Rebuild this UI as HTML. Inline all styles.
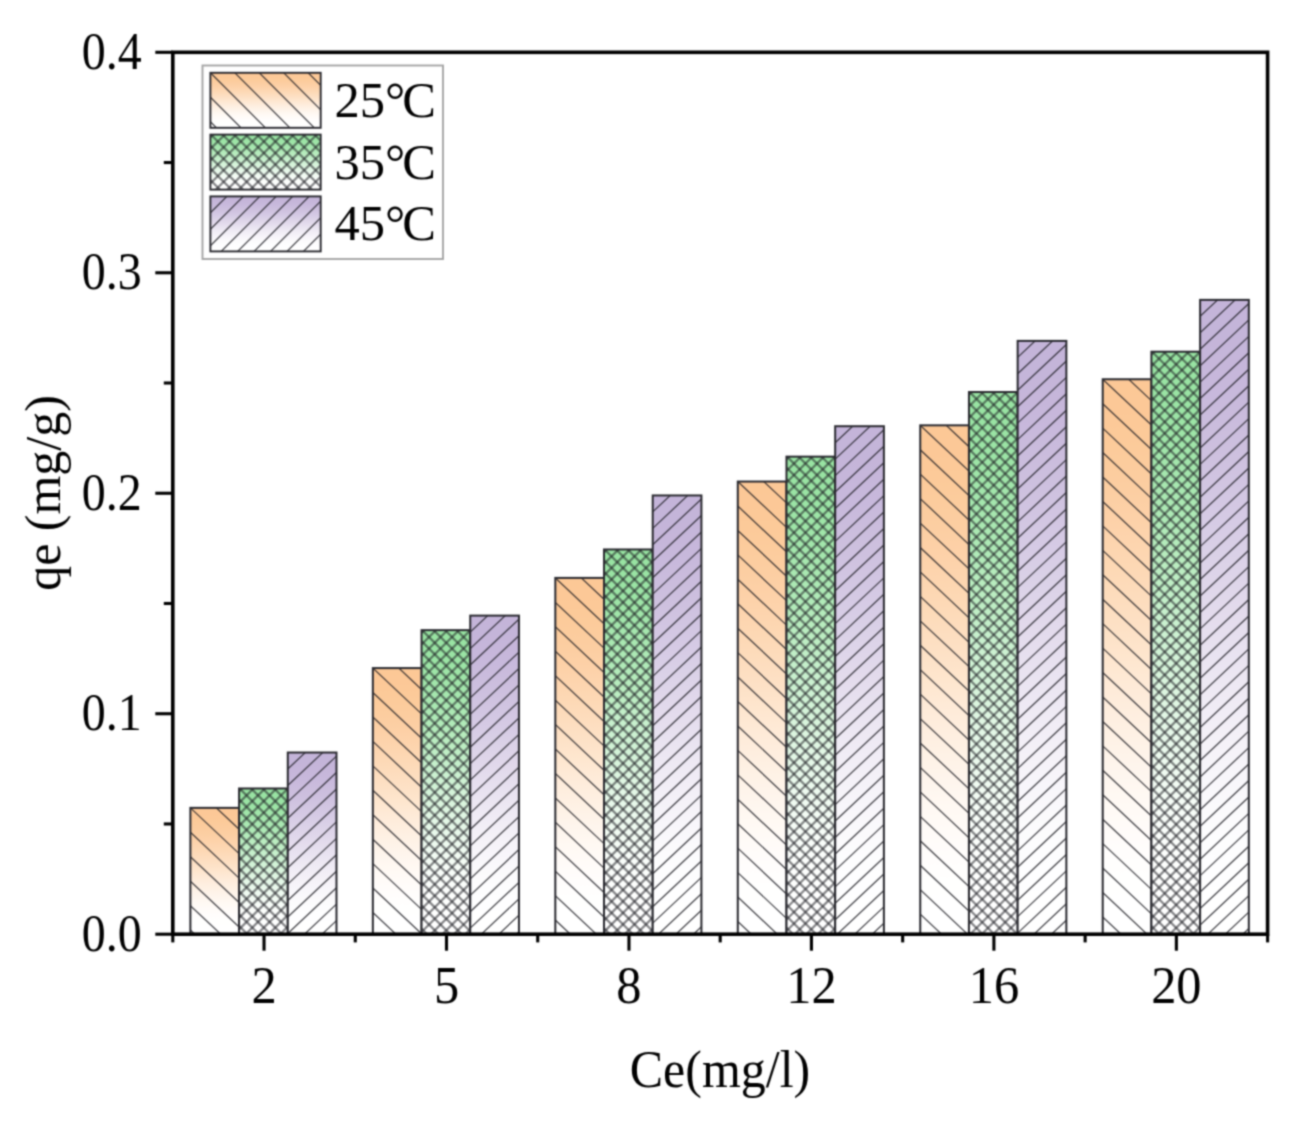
<!DOCTYPE html>
<html><head><meta charset="utf-8"><title>qe vs Ce</title>
<style>html,body{margin:0;padding:0;background:#fff}svg{display:block}</style></head>
<body>
<svg width="1299" height="1124" viewBox="0 0 1299 1124">
<defs>
<filter id="soft" x="0" y="0" width="1299" height="1124" filterUnits="userSpaceOnUse" color-interpolation-filters="sRGB"><feConvolveMatrix order="5" kernelMatrix="0.00023 0.00332 0.00809 0.00332 0.00023 0.00332 0.04785 0.11640 0.04785 0.00332 0.00809 0.11640 0.28313 0.11640 0.00809 0.00332 0.04785 0.11640 0.04785 0.00332 0.00023 0.00332 0.00809 0.00332 0.00023" divisor="1" edgeMode="duplicate" preserveAlpha="true"/></filter>
<linearGradient id="g0" x1="0" y1="0" x2="0" y2="1"><stop offset="0.00" stop-color="#fcc896"/><stop offset="0.05" stop-color="#fcc897"/><stop offset="0.10" stop-color="#fcca99"/><stop offset="0.15" stop-color="#fccc9d"/><stop offset="0.20" stop-color="#fccea2"/><stop offset="0.25" stop-color="#fdd1a8"/><stop offset="0.30" stop-color="#fdd5af"/><stop offset="0.35" stop-color="#fdd9b6"/><stop offset="0.40" stop-color="#fdddbe"/><stop offset="0.45" stop-color="#fde1c6"/><stop offset="0.50" stop-color="#fee6ce"/><stop offset="0.55" stop-color="#feead7"/><stop offset="0.60" stop-color="#feeedf"/><stop offset="0.65" stop-color="#fef2e6"/><stop offset="0.70" stop-color="#fef5ed"/><stop offset="0.75" stop-color="#fff9f3"/><stop offset="0.80" stop-color="#fffbf8"/><stop offset="0.85" stop-color="#fffdfc"/><stop offset="0.90" stop-color="#fffffe"/><stop offset="0.95" stop-color="#ffffff"/><stop offset="1.00" stop-color="#ffffff"/></linearGradient>
<linearGradient id="g1" x1="0" y1="0" x2="0" y2="1"><stop offset="0.00" stop-color="#98e3a2"/><stop offset="0.05" stop-color="#99e3a3"/><stop offset="0.10" stop-color="#9be4a5"/><stop offset="0.15" stop-color="#9fe5a8"/><stop offset="0.20" stop-color="#a4e6ad"/><stop offset="0.25" stop-color="#aae8b2"/><stop offset="0.30" stop-color="#b0eab8"/><stop offset="0.35" stop-color="#b8ecbe"/><stop offset="0.40" stop-color="#bfeec5"/><stop offset="0.45" stop-color="#c7f0cd"/><stop offset="0.50" stop-color="#cff2d4"/><stop offset="0.55" stop-color="#d7f4db"/><stop offset="0.60" stop-color="#dff6e2"/><stop offset="0.65" stop-color="#e6f8e9"/><stop offset="0.70" stop-color="#edfaef"/><stop offset="0.75" stop-color="#f3fcf4"/><stop offset="0.80" stop-color="#f8fdf9"/><stop offset="0.85" stop-color="#fcfefc"/><stop offset="0.90" stop-color="#fefffe"/><stop offset="0.95" stop-color="#ffffff"/><stop offset="1.00" stop-color="#ffffff"/></linearGradient>
<linearGradient id="g2" x1="0" y1="0" x2="0" y2="1"><stop offset="0.00" stop-color="#c4b4d9"/><stop offset="0.05" stop-color="#c4b5d9"/><stop offset="0.10" stop-color="#c6b6da"/><stop offset="0.15" stop-color="#c8b9dc"/><stop offset="0.20" stop-color="#cbbddd"/><stop offset="0.25" stop-color="#cec1df"/><stop offset="0.30" stop-color="#d2c6e2"/><stop offset="0.35" stop-color="#d6cbe5"/><stop offset="0.40" stop-color="#dad1e7"/><stop offset="0.45" stop-color="#dfd6ea"/><stop offset="0.50" stop-color="#e4dced"/><stop offset="0.55" stop-color="#e8e2f0"/><stop offset="0.60" stop-color="#ede8f3"/><stop offset="0.65" stop-color="#f1edf6"/><stop offset="0.70" stop-color="#f5f2f8"/><stop offset="0.75" stop-color="#f8f6fb"/><stop offset="0.80" stop-color="#fbfafc"/><stop offset="0.85" stop-color="#fdfdfe"/><stop offset="0.90" stop-color="#fefeff"/><stop offset="0.95" stop-color="#ffffff"/><stop offset="1.00" stop-color="#ffffff"/></linearGradient>
</defs>
<g filter="url(#soft)">
<rect width="1299" height="1124" fill="#fff"/>
<clipPath id="c1"><rect x="190.38" y="807.87" width="48.70" height="126.33"/></clipPath>
<rect x="190.38" y="807.87" width="48.70" height="126.33" fill="url(#g0)"/>
<g clip-path="url(#c1)" stroke="#1c1c22" stroke-width="1.25" fill="none" stroke-opacity="0.82">
<path d="M190.38 734.55L239.08 780.33M190.38 758.99L239.08 804.77M190.38 783.43L239.08 829.21M190.38 807.87L239.08 853.65M190.38 832.31L239.08 878.09M190.38 856.75L239.08 902.53M190.38 881.19L239.08 926.97M190.38 905.63L239.08 951.41M190.38 930.07L239.08 975.85"/>
</g>
<rect x="190.38" y="807.87" width="48.70" height="126.33" fill="none" stroke="#2a2a30" stroke-width="2.0"/>
<clipPath id="c2"><rect x="239.08" y="788.47" width="48.70" height="145.73"/></clipPath>
<rect x="239.08" y="788.47" width="48.70" height="145.73" fill="url(#g1)"/>
<g clip-path="url(#c2)" stroke="#1c1c22" stroke-width="2.3" fill="none" stroke-opacity="0.52">
<path d="M239.08 718.87L287.78 767.57M239.08 730.37L287.78 779.07M239.08 741.87L287.78 790.57M239.08 753.37L287.78 802.07M239.08 764.87L287.78 813.57M239.08 776.37L287.78 825.07M239.08 787.87L287.78 836.57M239.08 799.37L287.78 848.07M239.08 810.87L287.78 859.57M239.08 822.37L287.78 871.07M239.08 833.87L287.78 882.57M239.08 845.37L287.78 894.07M239.08 856.87L287.78 905.57M239.08 868.37L287.78 917.07M239.08 879.87L287.78 928.57M239.08 891.37L287.78 940.07M239.08 902.87L287.78 951.57M239.08 914.37L287.78 963.07M239.08 925.87L287.78 974.57"/>
<path d="M239.08 791.37L287.78 742.67M239.08 802.87L287.78 754.17M239.08 814.37L287.78 765.67M239.08 825.87L287.78 777.17M239.08 837.37L287.78 788.67M239.08 848.87L287.78 800.17M239.08 860.37L287.78 811.67M239.08 871.87L287.78 823.17M239.08 883.37L287.78 834.67M239.08 894.87L287.78 846.17M239.08 906.37L287.78 857.67M239.08 917.87L287.78 869.17M239.08 929.37L287.78 880.67M239.08 940.87L287.78 892.17M239.08 952.37L287.78 903.67M239.08 963.87L287.78 915.17M239.08 975.37L287.78 926.67"/>
</g>
<rect x="239.08" y="788.47" width="48.70" height="145.73" fill="none" stroke="#2a2a30" stroke-width="2.0"/>
<clipPath id="c3"><rect x="287.78" y="752.53" width="48.70" height="181.67"/></clipPath>
<rect x="287.78" y="752.53" width="48.70" height="181.67" fill="url(#g2)"/>
<g clip-path="url(#c3)" stroke="#1c1c22" stroke-width="1.25" fill="none" stroke-opacity="0.82">
<path d="M287.78 752.53L336.48 706.75M287.78 768.98L336.48 723.20M287.78 785.43L336.48 739.65M287.78 801.88L336.48 756.10M287.78 818.33L336.48 772.55M287.78 834.78L336.48 789.00M287.78 851.23L336.48 805.45M287.78 867.68L336.48 821.90M287.78 884.13L336.48 838.35M287.78 900.58L336.48 854.80M287.78 917.03L336.48 871.25M287.78 933.48L336.48 887.70M287.78 949.93L336.48 904.15M287.78 966.38L336.48 920.60"/>
</g>
<rect x="287.78" y="752.53" width="48.70" height="181.67" fill="none" stroke="#2a2a30" stroke-width="2.0"/>
<clipPath id="c4"><rect x="372.85" y="668.09" width="48.70" height="266.11"/></clipPath>
<rect x="372.85" y="668.09" width="48.70" height="266.11" fill="url(#g0)"/>
<g clip-path="url(#c4)" stroke="#1c1c22" stroke-width="1.25" fill="none" stroke-opacity="0.82">
<path d="M372.85 594.77L421.55 640.54M372.85 619.21L421.55 664.98M372.85 643.65L421.55 689.42M372.85 668.09L421.55 713.86M372.85 692.53L421.55 738.30M372.85 716.97L421.55 762.74M372.85 741.41L421.55 787.18M372.85 765.85L421.55 811.62M372.85 790.29L421.55 836.06M372.85 814.73L421.55 860.50M372.85 839.17L421.55 884.94M372.85 863.61L421.55 909.38M372.85 888.05L421.55 933.82M372.85 912.49L421.55 958.26"/>
</g>
<rect x="372.85" y="668.09" width="48.70" height="266.11" fill="none" stroke="#2a2a30" stroke-width="2.0"/>
<clipPath id="c5"><rect x="421.55" y="630.16" width="48.70" height="304.04"/></clipPath>
<rect x="421.55" y="630.16" width="48.70" height="304.04" fill="url(#g1)"/>
<g clip-path="url(#c5)" stroke="#1c1c22" stroke-width="2.3" fill="none" stroke-opacity="0.52">
<path d="M421.55 560.56L470.25 609.26M421.55 572.06L470.25 620.76M421.55 583.56L470.25 632.26M421.55 595.06L470.25 643.76M421.55 606.56L470.25 655.26M421.55 618.06L470.25 666.76M421.55 629.56L470.25 678.26M421.55 641.06L470.25 689.76M421.55 652.56L470.25 701.26M421.55 664.06L470.25 712.76M421.55 675.56L470.25 724.26M421.55 687.06L470.25 735.76M421.55 698.56L470.25 747.26M421.55 710.06L470.25 758.76M421.55 721.56L470.25 770.26M421.55 733.06L470.25 781.76M421.55 744.56L470.25 793.26M421.55 756.06L470.25 804.76M421.55 767.56L470.25 816.26M421.55 779.06L470.25 827.76M421.55 790.56L470.25 839.26M421.55 802.06L470.25 850.76M421.55 813.56L470.25 862.26M421.55 825.06L470.25 873.76M421.55 836.56L470.25 885.26M421.55 848.06L470.25 896.76M421.55 859.56L470.25 908.26M421.55 871.06L470.25 919.76M421.55 882.56L470.25 931.26M421.55 894.06L470.25 942.76M421.55 905.56L470.25 954.26M421.55 917.06L470.25 965.76M421.55 928.56L470.25 977.26"/>
<path d="M421.55 633.06L470.25 584.36M421.55 644.56L470.25 595.86M421.55 656.06L470.25 607.36M421.55 667.56L470.25 618.86M421.55 679.06L470.25 630.36M421.55 690.56L470.25 641.86M421.55 702.06L470.25 653.36M421.55 713.56L470.25 664.86M421.55 725.06L470.25 676.36M421.55 736.56L470.25 687.86M421.55 748.06L470.25 699.36M421.55 759.56L470.25 710.86M421.55 771.06L470.25 722.36M421.55 782.56L470.25 733.86M421.55 794.06L470.25 745.36M421.55 805.56L470.25 756.86M421.55 817.06L470.25 768.36M421.55 828.56L470.25 779.86M421.55 840.06L470.25 791.36M421.55 851.56L470.25 802.86M421.55 863.06L470.25 814.36M421.55 874.56L470.25 825.86M421.55 886.06L470.25 837.36M421.55 897.56L470.25 848.86M421.55 909.06L470.25 860.36M421.55 920.56L470.25 871.86M421.55 932.06L470.25 883.36M421.55 943.56L470.25 894.86M421.55 955.06L470.25 906.36M421.55 966.56L470.25 917.86M421.55 978.06L470.25 929.36"/>
</g>
<rect x="421.55" y="630.16" width="48.70" height="304.04" fill="none" stroke="#2a2a30" stroke-width="2.0"/>
<clipPath id="c6"><rect x="470.25" y="615.61" width="48.70" height="318.59"/></clipPath>
<rect x="470.25" y="615.61" width="48.70" height="318.59" fill="url(#g2)"/>
<g clip-path="url(#c6)" stroke="#1c1c22" stroke-width="1.25" fill="none" stroke-opacity="0.82">
<path d="M470.25 615.61L518.95 569.84M470.25 632.06L518.95 586.29M470.25 648.51L518.95 602.74M470.25 664.96L518.95 619.19M470.25 681.41L518.95 635.64M470.25 697.86L518.95 652.09M470.25 714.31L518.95 668.54M470.25 730.76L518.95 684.99M470.25 747.21L518.95 701.44M470.25 763.66L518.95 717.89M470.25 780.11L518.95 734.34M470.25 796.56L518.95 750.79M470.25 813.01L518.95 767.24M470.25 829.46L518.95 783.69M470.25 845.91L518.95 800.14M470.25 862.36L518.95 816.59M470.25 878.81L518.95 833.04M470.25 895.26L518.95 849.49M470.25 911.71L518.95 865.94M470.25 928.16L518.95 882.39M470.25 944.61L518.95 898.84M470.25 961.06L518.95 915.29M470.25 977.51L518.95 931.74"/>
</g>
<rect x="470.25" y="615.61" width="48.70" height="318.59" fill="none" stroke="#2a2a30" stroke-width="2.0"/>
<clipPath id="c7"><rect x="555.32" y="577.91" width="48.70" height="356.29"/></clipPath>
<rect x="555.32" y="577.91" width="48.70" height="356.29" fill="url(#g0)"/>
<g clip-path="url(#c7)" stroke="#1c1c22" stroke-width="1.25" fill="none" stroke-opacity="0.82">
<path d="M555.32 504.59L604.02 550.37M555.32 529.03L604.02 574.81M555.32 553.47L604.02 599.25M555.32 577.91L604.02 623.69M555.32 602.35L604.02 648.13M555.32 626.79L604.02 672.57M555.32 651.23L604.02 697.01M555.32 675.67L604.02 721.45M555.32 700.11L604.02 745.89M555.32 724.55L604.02 770.33M555.32 748.99L604.02 794.77M555.32 773.43L604.02 819.21M555.32 797.87L604.02 843.65M555.32 822.31L604.02 868.09M555.32 846.75L604.02 892.53M555.32 871.19L604.02 916.97M555.32 895.63L604.02 941.41M555.32 920.07L604.02 965.85"/>
</g>
<rect x="555.32" y="577.91" width="48.70" height="356.29" fill="none" stroke="#2a2a30" stroke-width="2.0"/>
<clipPath id="c8"><rect x="604.02" y="549.47" width="48.70" height="384.73"/></clipPath>
<rect x="604.02" y="549.47" width="48.70" height="384.73" fill="url(#g1)"/>
<g clip-path="url(#c8)" stroke="#1c1c22" stroke-width="2.3" fill="none" stroke-opacity="0.52">
<path d="M604.02 479.87L652.72 528.57M604.02 491.37L652.72 540.07M604.02 502.87L652.72 551.57M604.02 514.37L652.72 563.07M604.02 525.87L652.72 574.57M604.02 537.37L652.72 586.07M604.02 548.87L652.72 597.57M604.02 560.37L652.72 609.07M604.02 571.87L652.72 620.57M604.02 583.37L652.72 632.07M604.02 594.87L652.72 643.57M604.02 606.37L652.72 655.07M604.02 617.87L652.72 666.57M604.02 629.37L652.72 678.07M604.02 640.87L652.72 689.57M604.02 652.37L652.72 701.07M604.02 663.87L652.72 712.57M604.02 675.37L652.72 724.07M604.02 686.87L652.72 735.57M604.02 698.37L652.72 747.07M604.02 709.87L652.72 758.57M604.02 721.37L652.72 770.07M604.02 732.87L652.72 781.57M604.02 744.37L652.72 793.07M604.02 755.87L652.72 804.57M604.02 767.37L652.72 816.07M604.02 778.87L652.72 827.57M604.02 790.37L652.72 839.07M604.02 801.87L652.72 850.57M604.02 813.37L652.72 862.07M604.02 824.87L652.72 873.57M604.02 836.37L652.72 885.07M604.02 847.87L652.72 896.57M604.02 859.37L652.72 908.07M604.02 870.87L652.72 919.57M604.02 882.37L652.72 931.07M604.02 893.87L652.72 942.57M604.02 905.37L652.72 954.07M604.02 916.87L652.72 965.57M604.02 928.37L652.72 977.07"/>
<path d="M604.02 552.37L652.72 503.67M604.02 563.87L652.72 515.17M604.02 575.37L652.72 526.67M604.02 586.87L652.72 538.17M604.02 598.37L652.72 549.67M604.02 609.87L652.72 561.17M604.02 621.37L652.72 572.67M604.02 632.87L652.72 584.17M604.02 644.37L652.72 595.67M604.02 655.87L652.72 607.17M604.02 667.37L652.72 618.67M604.02 678.87L652.72 630.17M604.02 690.37L652.72 641.67M604.02 701.87L652.72 653.17M604.02 713.37L652.72 664.67M604.02 724.87L652.72 676.17M604.02 736.37L652.72 687.67M604.02 747.87L652.72 699.17M604.02 759.37L652.72 710.67M604.02 770.87L652.72 722.17M604.02 782.37L652.72 733.67M604.02 793.87L652.72 745.17M604.02 805.37L652.72 756.67M604.02 816.87L652.72 768.17M604.02 828.37L652.72 779.67M604.02 839.87L652.72 791.17M604.02 851.37L652.72 802.67M604.02 862.87L652.72 814.17M604.02 874.37L652.72 825.67M604.02 885.87L652.72 837.17M604.02 897.37L652.72 848.67M604.02 908.87L652.72 860.17M604.02 920.37L652.72 871.67M604.02 931.87L652.72 883.17M604.02 943.37L652.72 894.67M604.02 954.87L652.72 906.17M604.02 966.37L652.72 917.67M604.02 977.87L652.72 929.17"/>
</g>
<rect x="604.02" y="549.47" width="48.70" height="384.73" fill="none" stroke="#2a2a30" stroke-width="2.0"/>
<clipPath id="c9"><rect x="652.72" y="495.45" width="48.70" height="438.75"/></clipPath>
<rect x="652.72" y="495.45" width="48.70" height="438.75" fill="url(#g2)"/>
<g clip-path="url(#c9)" stroke="#1c1c22" stroke-width="1.25" fill="none" stroke-opacity="0.82">
<path d="M652.72 495.45L701.42 449.68M652.72 511.90L701.42 466.13M652.72 528.35L701.42 482.58M652.72 544.80L701.42 499.03M652.72 561.25L701.42 515.48M652.72 577.70L701.42 531.93M652.72 594.15L701.42 548.38M652.72 610.60L701.42 564.83M652.72 627.05L701.42 581.28M652.72 643.50L701.42 597.73M652.72 659.95L701.42 614.18M652.72 676.40L701.42 630.63M652.72 692.85L701.42 647.08M652.72 709.30L701.42 663.53M652.72 725.75L701.42 679.98M652.72 742.20L701.42 696.43M652.72 758.65L701.42 712.88M652.72 775.10L701.42 729.33M652.72 791.55L701.42 745.78M652.72 808.00L701.42 762.23M652.72 824.45L701.42 778.68M652.72 840.90L701.42 795.13M652.72 857.35L701.42 811.58M652.72 873.80L701.42 828.03M652.72 890.25L701.42 844.48M652.72 906.70L701.42 860.93M652.72 923.15L701.42 877.38M652.72 939.60L701.42 893.83M652.72 956.05L701.42 910.28M652.72 972.50L701.42 926.73"/>
</g>
<rect x="652.72" y="495.45" width="48.70" height="438.75" fill="none" stroke="#2a2a30" stroke-width="2.0"/>
<clipPath id="c10"><rect x="737.78" y="481.56" width="48.70" height="452.64"/></clipPath>
<rect x="737.78" y="481.56" width="48.70" height="452.64" fill="url(#g0)"/>
<g clip-path="url(#c10)" stroke="#1c1c22" stroke-width="1.25" fill="none" stroke-opacity="0.82">
<path d="M737.78 408.24L786.48 454.02M737.78 432.68L786.48 478.46M737.78 457.12L786.48 502.90M737.78 481.56L786.48 527.34M737.78 506.00L786.48 551.78M737.78 530.44L786.48 576.22M737.78 554.88L786.48 600.66M737.78 579.32L786.48 625.10M737.78 603.76L786.48 649.54M737.78 628.20L786.48 673.98M737.78 652.64L786.48 698.42M737.78 677.08L786.48 722.86M737.78 701.52L786.48 747.30M737.78 725.96L786.48 771.74M737.78 750.40L786.48 796.18M737.78 774.84L786.48 820.62M737.78 799.28L786.48 845.06M737.78 823.72L786.48 869.50M737.78 848.16L786.48 893.94M737.78 872.60L786.48 918.38M737.78 897.04L786.48 942.82M737.78 921.48L786.48 967.26"/>
</g>
<rect x="737.78" y="481.56" width="48.70" height="452.64" fill="none" stroke="#2a2a30" stroke-width="2.0"/>
<clipPath id="c11"><rect x="786.48" y="456.65" width="48.70" height="477.55"/></clipPath>
<rect x="786.48" y="456.65" width="48.70" height="477.55" fill="url(#g1)"/>
<g clip-path="url(#c11)" stroke="#1c1c22" stroke-width="2.3" fill="none" stroke-opacity="0.52">
<path d="M786.48 387.05L835.18 435.75M786.48 398.55L835.18 447.25M786.48 410.05L835.18 458.75M786.48 421.55L835.18 470.25M786.48 433.05L835.18 481.75M786.48 444.55L835.18 493.25M786.48 456.05L835.18 504.75M786.48 467.55L835.18 516.25M786.48 479.05L835.18 527.75M786.48 490.55L835.18 539.25M786.48 502.05L835.18 550.75M786.48 513.55L835.18 562.25M786.48 525.05L835.18 573.75M786.48 536.55L835.18 585.25M786.48 548.05L835.18 596.75M786.48 559.55L835.18 608.25M786.48 571.05L835.18 619.75M786.48 582.55L835.18 631.25M786.48 594.05L835.18 642.75M786.48 605.55L835.18 654.25M786.48 617.05L835.18 665.75M786.48 628.55L835.18 677.25M786.48 640.05L835.18 688.75M786.48 651.55L835.18 700.25M786.48 663.05L835.18 711.75M786.48 674.55L835.18 723.25M786.48 686.05L835.18 734.75M786.48 697.55L835.18 746.25M786.48 709.05L835.18 757.75M786.48 720.55L835.18 769.25M786.48 732.05L835.18 780.75M786.48 743.55L835.18 792.25M786.48 755.05L835.18 803.75M786.48 766.55L835.18 815.25M786.48 778.05L835.18 826.75M786.48 789.55L835.18 838.25M786.48 801.05L835.18 849.75M786.48 812.55L835.18 861.25M786.48 824.05L835.18 872.75M786.48 835.55L835.18 884.25M786.48 847.05L835.18 895.75M786.48 858.55L835.18 907.25M786.48 870.05L835.18 918.75M786.48 881.55L835.18 930.25M786.48 893.05L835.18 941.75M786.48 904.55L835.18 953.25M786.48 916.05L835.18 964.75M786.48 927.55L835.18 976.25"/>
<path d="M786.48 459.55L835.18 410.85M786.48 471.05L835.18 422.35M786.48 482.55L835.18 433.85M786.48 494.05L835.18 445.35M786.48 505.55L835.18 456.85M786.48 517.05L835.18 468.35M786.48 528.55L835.18 479.85M786.48 540.05L835.18 491.35M786.48 551.55L835.18 502.85M786.48 563.05L835.18 514.35M786.48 574.55L835.18 525.85M786.48 586.05L835.18 537.35M786.48 597.55L835.18 548.85M786.48 609.05L835.18 560.35M786.48 620.55L835.18 571.85M786.48 632.05L835.18 583.35M786.48 643.55L835.18 594.85M786.48 655.05L835.18 606.35M786.48 666.55L835.18 617.85M786.48 678.05L835.18 629.35M786.48 689.55L835.18 640.85M786.48 701.05L835.18 652.35M786.48 712.55L835.18 663.85M786.48 724.05L835.18 675.35M786.48 735.55L835.18 686.85M786.48 747.05L835.18 698.35M786.48 758.55L835.18 709.85M786.48 770.05L835.18 721.35M786.48 781.55L835.18 732.85M786.48 793.05L835.18 744.35M786.48 804.55L835.18 755.85M786.48 816.05L835.18 767.35M786.48 827.55L835.18 778.85M786.48 839.05L835.18 790.35M786.48 850.55L835.18 801.85M786.48 862.05L835.18 813.35M786.48 873.55L835.18 824.85M786.48 885.05L835.18 836.35M786.48 896.55L835.18 847.85M786.48 908.05L835.18 859.35M786.48 919.55L835.18 870.85M786.48 931.05L835.18 882.35M786.48 942.55L835.18 893.85M786.48 954.05L835.18 905.35M786.48 965.55L835.18 916.85M786.48 977.05L835.18 928.35"/>
</g>
<rect x="786.48" y="456.65" width="48.70" height="477.55" fill="none" stroke="#2a2a30" stroke-width="2.0"/>
<clipPath id="c12"><rect x="835.18" y="426.23" width="48.70" height="507.97"/></clipPath>
<rect x="835.18" y="426.23" width="48.70" height="507.97" fill="url(#g2)"/>
<g clip-path="url(#c12)" stroke="#1c1c22" stroke-width="1.25" fill="none" stroke-opacity="0.82">
<path d="M835.18 426.23L883.88 380.45M835.18 442.68L883.88 396.90M835.18 459.13L883.88 413.35M835.18 475.58L883.88 429.80M835.18 492.03L883.88 446.25M835.18 508.48L883.88 462.70M835.18 524.93L883.88 479.15M835.18 541.38L883.88 495.60M835.18 557.83L883.88 512.05M835.18 574.28L883.88 528.50M835.18 590.73L883.88 544.95M835.18 607.18L883.88 561.40M835.18 623.63L883.88 577.85M835.18 640.08L883.88 594.30M835.18 656.53L883.88 610.75M835.18 672.98L883.88 627.20M835.18 689.43L883.88 643.65M835.18 705.88L883.88 660.10M835.18 722.33L883.88 676.55M835.18 738.78L883.88 693.00M835.18 755.23L883.88 709.45M835.18 771.68L883.88 725.90M835.18 788.13L883.88 742.35M835.18 804.58L883.88 758.80M835.18 821.03L883.88 775.25M835.18 837.48L883.88 791.70M835.18 853.93L883.88 808.15M835.18 870.38L883.88 824.60M835.18 886.83L883.88 841.05M835.18 903.28L883.88 857.50M835.18 919.73L883.88 873.95M835.18 936.18L883.88 890.40M835.18 952.63L883.88 906.85M835.18 969.08L883.88 923.30"/>
</g>
<rect x="835.18" y="426.23" width="48.70" height="507.97" fill="none" stroke="#2a2a30" stroke-width="2.0"/>
<clipPath id="c13"><rect x="920.25" y="425.34" width="48.70" height="508.86"/></clipPath>
<rect x="920.25" y="425.34" width="48.70" height="508.86" fill="url(#g0)"/>
<g clip-path="url(#c13)" stroke="#1c1c22" stroke-width="1.25" fill="none" stroke-opacity="0.82">
<path d="M920.25 352.02L968.95 397.80M920.25 376.46L968.95 422.24M920.25 400.90L968.95 446.68M920.25 425.34L968.95 471.12M920.25 449.78L968.95 495.56M920.25 474.22L968.95 520.00M920.25 498.66L968.95 544.44M920.25 523.10L968.95 568.88M920.25 547.54L968.95 593.32M920.25 571.98L968.95 617.76M920.25 596.42L968.95 642.20M920.25 620.86L968.95 666.64M920.25 645.30L968.95 691.08M920.25 669.74L968.95 715.52M920.25 694.18L968.95 739.96M920.25 718.62L968.95 764.40M920.25 743.06L968.95 788.84M920.25 767.50L968.95 813.28M920.25 791.94L968.95 837.72M920.25 816.38L968.95 862.16M920.25 840.82L968.95 886.60M920.25 865.26L968.95 911.04M920.25 889.70L968.95 935.48M920.25 914.14L968.95 959.92"/>
</g>
<rect x="920.25" y="425.34" width="48.70" height="508.86" fill="none" stroke="#2a2a30" stroke-width="2.0"/>
<clipPath id="c14"><rect x="968.95" y="392.05" width="48.70" height="542.15"/></clipPath>
<rect x="968.95" y="392.05" width="48.70" height="542.15" fill="url(#g1)"/>
<g clip-path="url(#c14)" stroke="#1c1c22" stroke-width="2.3" fill="none" stroke-opacity="0.52">
<path d="M968.95 322.45L1017.65 371.15M968.95 333.95L1017.65 382.65M968.95 345.45L1017.65 394.15M968.95 356.95L1017.65 405.65M968.95 368.45L1017.65 417.15M968.95 379.95L1017.65 428.65M968.95 391.45L1017.65 440.15M968.95 402.95L1017.65 451.65M968.95 414.45L1017.65 463.15M968.95 425.95L1017.65 474.65M968.95 437.45L1017.65 486.15M968.95 448.95L1017.65 497.65M968.95 460.45L1017.65 509.15M968.95 471.95L1017.65 520.65M968.95 483.45L1017.65 532.15M968.95 494.95L1017.65 543.65M968.95 506.45L1017.65 555.15M968.95 517.95L1017.65 566.65M968.95 529.45L1017.65 578.15M968.95 540.95L1017.65 589.65M968.95 552.45L1017.65 601.15M968.95 563.95L1017.65 612.65M968.95 575.45L1017.65 624.15M968.95 586.95L1017.65 635.65M968.95 598.45L1017.65 647.15M968.95 609.95L1017.65 658.65M968.95 621.45L1017.65 670.15M968.95 632.95L1017.65 681.65M968.95 644.45L1017.65 693.15M968.95 655.95L1017.65 704.65M968.95 667.45L1017.65 716.15M968.95 678.95L1017.65 727.65M968.95 690.45L1017.65 739.15M968.95 701.95L1017.65 750.65M968.95 713.45L1017.65 762.15M968.95 724.95L1017.65 773.65M968.95 736.45L1017.65 785.15M968.95 747.95L1017.65 796.65M968.95 759.45L1017.65 808.15M968.95 770.95L1017.65 819.65M968.95 782.45L1017.65 831.15M968.95 793.95L1017.65 842.65M968.95 805.45L1017.65 854.15M968.95 816.95L1017.65 865.65M968.95 828.45L1017.65 877.15M968.95 839.95L1017.65 888.65M968.95 851.45L1017.65 900.15M968.95 862.95L1017.65 911.65M968.95 874.45L1017.65 923.15M968.95 885.95L1017.65 934.65M968.95 897.45L1017.65 946.15M968.95 908.95L1017.65 957.65M968.95 920.45L1017.65 969.15M968.95 931.95L1017.65 980.65"/>
<path d="M968.95 394.95L1017.65 346.25M968.95 406.45L1017.65 357.75M968.95 417.95L1017.65 369.25M968.95 429.45L1017.65 380.75M968.95 440.95L1017.65 392.25M968.95 452.45L1017.65 403.75M968.95 463.95L1017.65 415.25M968.95 475.45L1017.65 426.75M968.95 486.95L1017.65 438.25M968.95 498.45L1017.65 449.75M968.95 509.95L1017.65 461.25M968.95 521.45L1017.65 472.75M968.95 532.95L1017.65 484.25M968.95 544.45L1017.65 495.75M968.95 555.95L1017.65 507.25M968.95 567.45L1017.65 518.75M968.95 578.95L1017.65 530.25M968.95 590.45L1017.65 541.75M968.95 601.95L1017.65 553.25M968.95 613.45L1017.65 564.75M968.95 624.95L1017.65 576.25M968.95 636.45L1017.65 587.75M968.95 647.95L1017.65 599.25M968.95 659.45L1017.65 610.75M968.95 670.95L1017.65 622.25M968.95 682.45L1017.65 633.75M968.95 693.95L1017.65 645.25M968.95 705.45L1017.65 656.75M968.95 716.95L1017.65 668.25M968.95 728.45L1017.65 679.75M968.95 739.95L1017.65 691.25M968.95 751.45L1017.65 702.75M968.95 762.95L1017.65 714.25M968.95 774.45L1017.65 725.75M968.95 785.95L1017.65 737.25M968.95 797.45L1017.65 748.75M968.95 808.95L1017.65 760.25M968.95 820.45L1017.65 771.75M968.95 831.95L1017.65 783.25M968.95 843.45L1017.65 794.75M968.95 854.95L1017.65 806.25M968.95 866.45L1017.65 817.75M968.95 877.95L1017.65 829.25M968.95 889.45L1017.65 840.75M968.95 900.95L1017.65 852.25M968.95 912.45L1017.65 863.75M968.95 923.95L1017.65 875.25M968.95 935.45L1017.65 886.75M968.95 946.95L1017.65 898.25M968.95 958.45L1017.65 909.75M968.95 969.95L1017.65 921.25M968.95 981.45L1017.65 932.75"/>
</g>
<rect x="968.95" y="392.05" width="48.70" height="542.15" fill="none" stroke="#2a2a30" stroke-width="2.0"/>
<clipPath id="c15"><rect x="1017.65" y="340.90" width="48.70" height="593.30"/></clipPath>
<rect x="1017.65" y="340.90" width="48.70" height="593.30" fill="url(#g2)"/>
<g clip-path="url(#c15)" stroke="#1c1c22" stroke-width="1.25" fill="none" stroke-opacity="0.82">
<path d="M1017.65 340.90L1066.35 295.12M1017.65 357.35L1066.35 311.57M1017.65 373.80L1066.35 328.02M1017.65 390.25L1066.35 344.47M1017.65 406.70L1066.35 360.92M1017.65 423.15L1066.35 377.37M1017.65 439.60L1066.35 393.82M1017.65 456.05L1066.35 410.27M1017.65 472.50L1066.35 426.72M1017.65 488.95L1066.35 443.17M1017.65 505.40L1066.35 459.62M1017.65 521.85L1066.35 476.07M1017.65 538.30L1066.35 492.52M1017.65 554.75L1066.35 508.97M1017.65 571.20L1066.35 525.42M1017.65 587.65L1066.35 541.87M1017.65 604.10L1066.35 558.32M1017.65 620.55L1066.35 574.77M1017.65 637.00L1066.35 591.22M1017.65 653.45L1066.35 607.67M1017.65 669.90L1066.35 624.12M1017.65 686.35L1066.35 640.57M1017.65 702.80L1066.35 657.02M1017.65 719.25L1066.35 673.47M1017.65 735.70L1066.35 689.92M1017.65 752.15L1066.35 706.37M1017.65 768.60L1066.35 722.82M1017.65 785.05L1066.35 739.27M1017.65 801.50L1066.35 755.72M1017.65 817.95L1066.35 772.17M1017.65 834.40L1066.35 788.62M1017.65 850.85L1066.35 805.07M1017.65 867.30L1066.35 821.52M1017.65 883.75L1066.35 837.97M1017.65 900.20L1066.35 854.42M1017.65 916.65L1066.35 870.87M1017.65 933.10L1066.35 887.32M1017.65 949.55L1066.35 903.77M1017.65 966.00L1066.35 920.22"/>
</g>
<rect x="1017.65" y="340.90" width="48.70" height="593.30" fill="none" stroke="#2a2a30" stroke-width="2.0"/>
<clipPath id="c16"><rect x="1102.72" y="379.26" width="48.70" height="554.94"/></clipPath>
<rect x="1102.72" y="379.26" width="48.70" height="554.94" fill="url(#g0)"/>
<g clip-path="url(#c16)" stroke="#1c1c22" stroke-width="1.25" fill="none" stroke-opacity="0.82">
<path d="M1102.72 305.94L1151.42 351.72M1102.72 330.38L1151.42 376.16M1102.72 354.82L1151.42 400.60M1102.72 379.26L1151.42 425.04M1102.72 403.70L1151.42 449.48M1102.72 428.14L1151.42 473.92M1102.72 452.58L1151.42 498.36M1102.72 477.02L1151.42 522.80M1102.72 501.46L1151.42 547.24M1102.72 525.90L1151.42 571.68M1102.72 550.34L1151.42 596.12M1102.72 574.78L1151.42 620.56M1102.72 599.22L1151.42 645.00M1102.72 623.66L1151.42 669.44M1102.72 648.10L1151.42 693.88M1102.72 672.54L1151.42 718.32M1102.72 696.98L1151.42 742.76M1102.72 721.42L1151.42 767.20M1102.72 745.86L1151.42 791.64M1102.72 770.30L1151.42 816.08M1102.72 794.74L1151.42 840.52M1102.72 819.18L1151.42 864.96M1102.72 843.62L1151.42 889.40M1102.72 868.06L1151.42 913.84M1102.72 892.50L1151.42 938.28M1102.72 916.94L1151.42 962.72"/>
</g>
<rect x="1102.72" y="379.26" width="48.70" height="554.94" fill="none" stroke="#2a2a30" stroke-width="2.0"/>
<clipPath id="c17"><rect x="1151.42" y="351.71" width="48.70" height="582.49"/></clipPath>
<rect x="1151.42" y="351.71" width="48.70" height="582.49" fill="url(#g1)"/>
<g clip-path="url(#c17)" stroke="#1c1c22" stroke-width="2.3" fill="none" stroke-opacity="0.52">
<path d="M1151.42 282.11L1200.12 330.81M1151.42 293.61L1200.12 342.31M1151.42 305.11L1200.12 353.81M1151.42 316.61L1200.12 365.31M1151.42 328.11L1200.12 376.81M1151.42 339.61L1200.12 388.31M1151.42 351.11L1200.12 399.81M1151.42 362.61L1200.12 411.31M1151.42 374.11L1200.12 422.81M1151.42 385.61L1200.12 434.31M1151.42 397.11L1200.12 445.81M1151.42 408.61L1200.12 457.31M1151.42 420.11L1200.12 468.81M1151.42 431.61L1200.12 480.31M1151.42 443.11L1200.12 491.81M1151.42 454.61L1200.12 503.31M1151.42 466.11L1200.12 514.81M1151.42 477.61L1200.12 526.31M1151.42 489.11L1200.12 537.81M1151.42 500.61L1200.12 549.31M1151.42 512.11L1200.12 560.81M1151.42 523.61L1200.12 572.31M1151.42 535.11L1200.12 583.81M1151.42 546.61L1200.12 595.31M1151.42 558.11L1200.12 606.81M1151.42 569.61L1200.12 618.31M1151.42 581.11L1200.12 629.81M1151.42 592.61L1200.12 641.31M1151.42 604.11L1200.12 652.81M1151.42 615.61L1200.12 664.31M1151.42 627.11L1200.12 675.81M1151.42 638.61L1200.12 687.31M1151.42 650.11L1200.12 698.81M1151.42 661.61L1200.12 710.31M1151.42 673.11L1200.12 721.81M1151.42 684.61L1200.12 733.31M1151.42 696.11L1200.12 744.81M1151.42 707.61L1200.12 756.31M1151.42 719.11L1200.12 767.81M1151.42 730.61L1200.12 779.31M1151.42 742.11L1200.12 790.81M1151.42 753.61L1200.12 802.31M1151.42 765.11L1200.12 813.81M1151.42 776.61L1200.12 825.31M1151.42 788.11L1200.12 836.81M1151.42 799.61L1200.12 848.31M1151.42 811.11L1200.12 859.81M1151.42 822.61L1200.12 871.31M1151.42 834.11L1200.12 882.81M1151.42 845.61L1200.12 894.31M1151.42 857.11L1200.12 905.81M1151.42 868.61L1200.12 917.31M1151.42 880.11L1200.12 928.81M1151.42 891.61L1200.12 940.31M1151.42 903.11L1200.12 951.81M1151.42 914.61L1200.12 963.31M1151.42 926.11L1200.12 974.81"/>
<path d="M1151.42 354.61L1200.12 305.91M1151.42 366.11L1200.12 317.41M1151.42 377.61L1200.12 328.91M1151.42 389.11L1200.12 340.41M1151.42 400.61L1200.12 351.91M1151.42 412.11L1200.12 363.41M1151.42 423.61L1200.12 374.91M1151.42 435.11L1200.12 386.41M1151.42 446.61L1200.12 397.91M1151.42 458.11L1200.12 409.41M1151.42 469.61L1200.12 420.91M1151.42 481.11L1200.12 432.41M1151.42 492.61L1200.12 443.91M1151.42 504.11L1200.12 455.41M1151.42 515.61L1200.12 466.91M1151.42 527.11L1200.12 478.41M1151.42 538.61L1200.12 489.91M1151.42 550.11L1200.12 501.41M1151.42 561.61L1200.12 512.91M1151.42 573.11L1200.12 524.41M1151.42 584.61L1200.12 535.91M1151.42 596.11L1200.12 547.41M1151.42 607.61L1200.12 558.91M1151.42 619.11L1200.12 570.41M1151.42 630.61L1200.12 581.91M1151.42 642.11L1200.12 593.41M1151.42 653.61L1200.12 604.91M1151.42 665.11L1200.12 616.41M1151.42 676.61L1200.12 627.91M1151.42 688.11L1200.12 639.41M1151.42 699.61L1200.12 650.91M1151.42 711.11L1200.12 662.41M1151.42 722.61L1200.12 673.91M1151.42 734.11L1200.12 685.41M1151.42 745.61L1200.12 696.91M1151.42 757.11L1200.12 708.41M1151.42 768.61L1200.12 719.91M1151.42 780.11L1200.12 731.41M1151.42 791.61L1200.12 742.91M1151.42 803.11L1200.12 754.41M1151.42 814.61L1200.12 765.91M1151.42 826.11L1200.12 777.41M1151.42 837.61L1200.12 788.91M1151.42 849.11L1200.12 800.41M1151.42 860.61L1200.12 811.91M1151.42 872.11L1200.12 823.41M1151.42 883.61L1200.12 834.91M1151.42 895.11L1200.12 846.41M1151.42 906.61L1200.12 857.91M1151.42 918.11L1200.12 869.41M1151.42 929.61L1200.12 880.91M1151.42 941.11L1200.12 892.41M1151.42 952.61L1200.12 903.91M1151.42 964.11L1200.12 915.41M1151.42 975.61L1200.12 926.91"/>
</g>
<rect x="1151.42" y="351.71" width="48.70" height="582.49" fill="none" stroke="#2a2a30" stroke-width="2.0"/>
<clipPath id="c18"><rect x="1200.12" y="299.89" width="48.70" height="634.31"/></clipPath>
<rect x="1200.12" y="299.89" width="48.70" height="634.31" fill="url(#g2)"/>
<g clip-path="url(#c18)" stroke="#1c1c22" stroke-width="1.25" fill="none" stroke-opacity="0.82">
<path d="M1200.12 299.89L1248.82 254.12M1200.12 316.34L1248.82 270.57M1200.12 332.79L1248.82 287.02M1200.12 349.24L1248.82 303.47M1200.12 365.69L1248.82 319.92M1200.12 382.14L1248.82 336.37M1200.12 398.59L1248.82 352.82M1200.12 415.04L1248.82 369.27M1200.12 431.49L1248.82 385.72M1200.12 447.94L1248.82 402.17M1200.12 464.39L1248.82 418.62M1200.12 480.84L1248.82 435.07M1200.12 497.29L1248.82 451.52M1200.12 513.74L1248.82 467.97M1200.12 530.19L1248.82 484.42M1200.12 546.64L1248.82 500.87M1200.12 563.09L1248.82 517.32M1200.12 579.54L1248.82 533.77M1200.12 595.99L1248.82 550.22M1200.12 612.44L1248.82 566.67M1200.12 628.89L1248.82 583.12M1200.12 645.34L1248.82 599.57M1200.12 661.79L1248.82 616.02M1200.12 678.24L1248.82 632.47M1200.12 694.69L1248.82 648.92M1200.12 711.14L1248.82 665.37M1200.12 727.59L1248.82 681.82M1200.12 744.04L1248.82 698.27M1200.12 760.49L1248.82 714.72M1200.12 776.94L1248.82 731.17M1200.12 793.39L1248.82 747.62M1200.12 809.84L1248.82 764.07M1200.12 826.29L1248.82 780.52M1200.12 842.74L1248.82 796.97M1200.12 859.19L1248.82 813.42M1200.12 875.64L1248.82 829.87M1200.12 892.09L1248.82 846.32M1200.12 908.54L1248.82 862.77M1200.12 924.99L1248.82 879.22M1200.12 941.44L1248.82 895.67M1200.12 957.89L1248.82 912.12M1200.12 974.34L1248.82 928.57"/>
</g>
<rect x="1200.12" y="299.89" width="48.70" height="634.31" fill="none" stroke="#2a2a30" stroke-width="2.0"/>
<rect x="172.8" y="52.3" width="1094.8" height="881.9000000000001" fill="none" stroke="#000" stroke-width="3.6"/>
<line x1="155.3" y1="934.20" x2="172.8" y2="934.20" stroke="#000" stroke-width="3.1"/>
<text transform="translate(141.8 950.50) scale(0.95 1.055)" text-anchor="end" font-family="Liberation Serif, serif" font-size="50.5">0.0</text>
<line x1="163.8" y1="823.96" x2="172.8" y2="823.96" stroke="#000" stroke-width="3.1"/>
<line x1="155.3" y1="713.73" x2="172.8" y2="713.73" stroke="#000" stroke-width="3.1"/>
<text transform="translate(141.8 730.02) scale(0.95 1.055)" text-anchor="end" font-family="Liberation Serif, serif" font-size="50.5">0.1</text>
<line x1="163.8" y1="603.49" x2="172.8" y2="603.49" stroke="#000" stroke-width="3.1"/>
<line x1="155.3" y1="493.25" x2="172.8" y2="493.25" stroke="#000" stroke-width="3.1"/>
<text transform="translate(141.8 509.55) scale(0.95 1.055)" text-anchor="end" font-family="Liberation Serif, serif" font-size="50.5">0.2</text>
<line x1="163.8" y1="383.01" x2="172.8" y2="383.01" stroke="#000" stroke-width="3.1"/>
<line x1="155.3" y1="272.77" x2="172.8" y2="272.77" stroke="#000" stroke-width="3.1"/>
<text transform="translate(141.8 289.07) scale(0.95 1.055)" text-anchor="end" font-family="Liberation Serif, serif" font-size="50.5">0.3</text>
<line x1="163.8" y1="162.54" x2="172.8" y2="162.54" stroke="#000" stroke-width="3.1"/>
<line x1="155.3" y1="52.30" x2="172.8" y2="52.30" stroke="#000" stroke-width="3.1"/>
<text transform="translate(141.8 68.60) scale(0.95 1.055)" text-anchor="end" font-family="Liberation Serif, serif" font-size="50.5">0.4</text>
<line x1="172.80" y1="934.2" x2="172.80" y2="942.4000000000001" stroke="#000" stroke-width="3.1"/>
<line x1="264.03" y1="934.2" x2="264.03" y2="950.7" stroke="#000" stroke-width="3.1"/>
<line x1="355.27" y1="934.2" x2="355.27" y2="942.4000000000001" stroke="#000" stroke-width="3.1"/>
<line x1="446.50" y1="934.2" x2="446.50" y2="950.7" stroke="#000" stroke-width="3.1"/>
<line x1="537.73" y1="934.2" x2="537.73" y2="942.4000000000001" stroke="#000" stroke-width="3.1"/>
<line x1="628.97" y1="934.2" x2="628.97" y2="950.7" stroke="#000" stroke-width="3.1"/>
<line x1="720.20" y1="934.2" x2="720.20" y2="942.4000000000001" stroke="#000" stroke-width="3.1"/>
<line x1="811.43" y1="934.2" x2="811.43" y2="950.7" stroke="#000" stroke-width="3.1"/>
<line x1="902.67" y1="934.2" x2="902.67" y2="942.4000000000001" stroke="#000" stroke-width="3.1"/>
<line x1="993.90" y1="934.2" x2="993.90" y2="950.7" stroke="#000" stroke-width="3.1"/>
<line x1="1085.13" y1="934.2" x2="1085.13" y2="942.4000000000001" stroke="#000" stroke-width="3.1"/>
<line x1="1176.37" y1="934.2" x2="1176.37" y2="950.7" stroke="#000" stroke-width="3.1"/>
<line x1="1267.60" y1="934.2" x2="1267.60" y2="942.4000000000001" stroke="#000" stroke-width="3.1"/>
<text transform="translate(264.03 1002.7) scale(1 1.025)" text-anchor="middle" font-family="Liberation Serif, serif" font-size="50.5">2</text>
<text transform="translate(446.50 1002.7) scale(1 1.025)" text-anchor="middle" font-family="Liberation Serif, serif" font-size="50.5">5</text>
<text transform="translate(628.97 1002.7) scale(1 1.025)" text-anchor="middle" font-family="Liberation Serif, serif" font-size="50.5">8</text>
<text transform="translate(811.43 1002.7) scale(1 1.025)" text-anchor="middle" font-family="Liberation Serif, serif" font-size="50.5">12</text>
<text transform="translate(993.90 1002.7) scale(1 1.025)" text-anchor="middle" font-family="Liberation Serif, serif" font-size="50.5">16</text>
<text transform="translate(1176.37 1002.7) scale(1 1.025)" text-anchor="middle" font-family="Liberation Serif, serif" font-size="50.5">20</text>
<text transform="translate(720 1086.5) scale(0.99 1.05)" text-anchor="middle" font-family="Liberation Serif, serif" font-size="50.5">Ce(mg/l)</text>
<text transform="translate(60.2 493) rotate(-90) scale(0.99 1.02)" text-anchor="middle" font-family="Liberation Serif, serif" font-size="50.5">qe (mg/g)</text>
<rect x="202.5" y="65.5" width="240.5" height="193.5" fill="#fff" stroke="#a4a4a4" stroke-width="1.9"/>
<clipPath id="c19"><rect x="210.40" y="72.80" width="110.30" height="55.00"/></clipPath>
<rect x="210.40" y="72.80" width="110.30" height="55.00" fill="url(#g0)"/>
<g clip-path="url(#c19)" stroke="#1c1c22" stroke-width="1.25" fill="none" stroke-opacity="0.82">
<path d="M210.40 -73.84L320.70 36.46M210.40 -49.40L320.70 60.90M210.40 -24.96L320.70 85.34M210.40 -0.52L320.70 109.78M210.40 23.92L320.70 134.22M210.40 48.36L320.70 158.66M210.40 72.80L320.70 183.10M210.40 97.24L320.70 207.54M210.40 121.68L320.70 231.98"/>
</g>
<rect x="210.40" y="72.80" width="110.30" height="55.00" fill="none" stroke="#2a2a30" stroke-width="1.9"/>
<text x="334.6" y="116.8" dx="0 0 0 -3" font-family="Liberation Serif, serif" font-size="50.5">25°C</text>
<clipPath id="c20"><rect x="210.40" y="134.60" width="110.30" height="55.00"/></clipPath>
<rect x="210.40" y="134.60" width="110.30" height="55.00" fill="url(#g1)"/>
<g clip-path="url(#c20)" stroke="#1c1c22" stroke-width="2.3" fill="none" stroke-opacity="0.52">
<path d="M210.40 7.50L320.70 117.80M210.40 19.00L320.70 129.30M210.40 30.50L320.70 140.80M210.40 42.00L320.70 152.30M210.40 53.50L320.70 163.80M210.40 65.00L320.70 175.30M210.40 76.50L320.70 186.80M210.40 88.00L320.70 198.30M210.40 99.50L320.70 209.80M210.40 111.00L320.70 221.30M210.40 122.50L320.70 232.80M210.40 134.00L320.70 244.30M210.40 145.50L320.70 255.80M210.40 157.00L320.70 267.30M210.40 168.50L320.70 278.80M210.40 180.00L320.70 290.30"/>
<path d="M210.40 137.50L320.70 27.20M210.40 149.00L320.70 38.70M210.40 160.50L320.70 50.20M210.40 172.00L320.70 61.70M210.40 183.50L320.70 73.20M210.40 195.00L320.70 84.70M210.40 206.50L320.70 96.20M210.40 218.00L320.70 107.70M210.40 229.50L320.70 119.20M210.40 241.00L320.70 130.70M210.40 252.50L320.70 142.20M210.40 264.00L320.70 153.70M210.40 275.50L320.70 165.20M210.40 287.00L320.70 176.70M210.40 298.50L320.70 188.20"/>
</g>
<rect x="210.40" y="134.60" width="110.30" height="55.00" fill="none" stroke="#2a2a30" stroke-width="1.9"/>
<text x="334.6" y="178.6" dx="0 0 0 -3" font-family="Liberation Serif, serif" font-size="50.5">35°C</text>
<clipPath id="c21"><rect x="210.40" y="196.40" width="110.30" height="55.00"/></clipPath>
<rect x="210.40" y="196.40" width="110.30" height="55.00" fill="url(#g2)"/>
<g clip-path="url(#c21)" stroke="#1c1c22" stroke-width="1.25" fill="none" stroke-opacity="0.82">
<path d="M210.40 196.40L320.70 86.10M210.40 212.85L320.70 102.55M210.40 229.30L320.70 119.00M210.40 245.75L320.70 135.45M210.40 262.20L320.70 151.90M210.40 278.65L320.70 168.35M210.40 295.10L320.70 184.80M210.40 311.55L320.70 201.25M210.40 328.00L320.70 217.70M210.40 344.45L320.70 234.15M210.40 360.90L320.70 250.60"/>
</g>
<rect x="210.40" y="196.40" width="110.30" height="55.00" fill="none" stroke="#2a2a30" stroke-width="1.9"/>
<text x="334.6" y="240.4" dx="0 0 0 -3" font-family="Liberation Serif, serif" font-size="50.5">45°C</text>
</g>
</svg>
</body></html>
